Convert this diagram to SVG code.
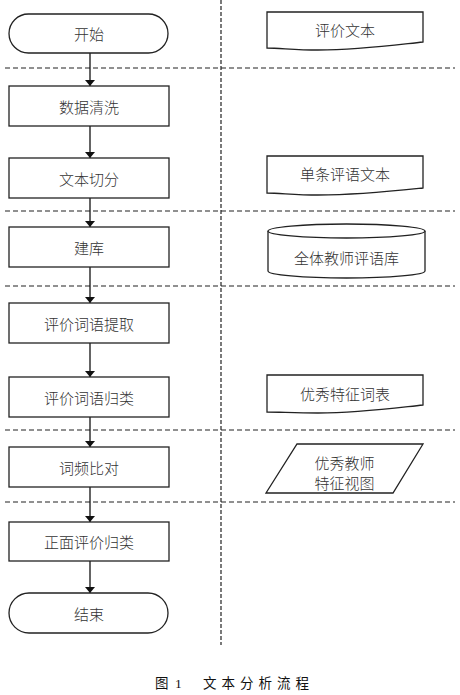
<svg xmlns="http://www.w3.org/2000/svg" width="460" height="695" viewBox="0 0 460 695">
<style>
.shape{fill:#fff;stroke:#222;stroke-width:1.3}
.lbl{font-family:"Noto Sans CJK SC","Noto Sans CJK TC",sans-serif;font-size:15px;fill:#333;text-anchor:middle;dominant-baseline:central;font-weight:300}
.sep{stroke:#222;stroke-width:1.2;stroke-dasharray:5,3;fill:none}
.vsep{stroke:#222;stroke-width:1.2;stroke-dasharray:4,2;fill:none}
.conn{stroke:#111;stroke-width:1.3;fill:none;marker-end:url(#arr)}
.cap{font-family:"Liberation Serif","Noto Sans CJK SC",serif;font-size:13.5px;fill:#111}
</style>
<defs>
<marker id="arr" viewBox="0 0 6 10" refX="6" refY="5" markerWidth="6" markerHeight="10" markerUnits="userSpaceOnUse" orient="auto-start-reverse">
<path d="M0,0 L6,5 L0,10 z" fill="#111"/>
</marker>
</defs>
<rect width="460" height="695" fill="#fff"/>
<g id="separators">
<line class="vsep" x1="221" y1="0" x2="221" y2="645"/>
<line class="sep" x1="5" y1="68" x2="455" y2="68"/>
<line class="sep" x1="5" y1="211" x2="455" y2="211"/>
<line class="sep" x1="5" y1="286" x2="455" y2="286"/>
<line class="sep" x1="5" y1="430" x2="455" y2="430"/>
<line class="sep" x1="5" y1="502" x2="455" y2="502"/>
</g>
<g id="connectors">
<line class="conn" x1="90" y1="53" x2="90" y2="86"/>
<line class="conn" x1="90" y1="126" x2="90" y2="158"/>
<line class="conn" x1="90" y1="198" x2="90" y2="227"/>
<line class="conn" x1="90" y1="267" x2="90" y2="303"/>
<line class="conn" x1="90" y1="343" x2="90" y2="377"/>
<line class="conn" x1="90" y1="417" x2="90" y2="447"/>
<line class="conn" x1="90" y1="487" x2="90" y2="522"/>
<line class="conn" x1="90" y1="561" x2="90" y2="593"/>
</g>
<g id="start">
<rect class="shape" x="9" y="14" width="159" height="39" rx="19.5"/>
<text class="lbl" x="89" y="33.5">开始</text>
</g>
<g id="clean">
<rect class="shape" x="9" y="86" width="160" height="40"/>
<text class="lbl" x="89" y="106">数据清洗</text>
</g>
<g id="split">
<rect class="shape" x="9" y="158" width="160" height="40"/>
<text class="lbl" x="89" y="178">文本切分</text>
</g>
<g id="build">
<rect class="shape" x="9" y="227" width="160" height="40"/>
<text class="lbl" x="89" y="247">建库</text>
</g>
<g id="extract">
<rect class="shape" x="9" y="303" width="160" height="40"/>
<text class="lbl" x="89" y="323">评价词语提取</text>
</g>
<g id="classify">
<rect class="shape" x="9" y="377" width="160" height="40"/>
<text class="lbl" x="89" y="397">评价词语归类</text>
</g>
<g id="compare">
<rect class="shape" x="9" y="447" width="160" height="40"/>
<text class="lbl" x="89" y="467">词频比对</text>
</g>
<g id="positive">
<rect class="shape" x="9" y="522" width="160" height="39"/>
<text class="lbl" x="89" y="541.5">正面评价归类</text>
</g>
<g id="end">
<rect class="shape" x="9" y="593" width="159" height="40" rx="20"/>
<text class="lbl" x="89" y="613">结束</text>
</g>
<g id="doc-text">
<path class="shape" d="M267,12 H423 V42 C395,45 360,50 318,50 C295,50 280,48 267,48 Z"/>
<text class="lbl" x="345" y="29">评价文本</text>
</g>
<g id="doc-single">
<path class="shape" d="M267,156 H423 V188 C395,191 360,195 318,195 C295,195 280,193 267,193 Z"/>
<text class="lbl" x="345" y="173">单条评语文本</text>
</g>
<g id="db">
<path class="shape" d="M268,231 A78.5,7 0 0 1 425,231 V271 A78.5,7 0 0 1 268,271 Z"/>
<path class="shape" d="M268,231 A78.5,7 0 0 0 425,231" fill="none"/>
<text class="lbl" x="346.5" y="257">全体教师评语库</text>
</g>
<g id="doc-words">
<path class="shape" d="M267,375 H423 V405 C395,408 360,413 318,413 C295,413 280,412 267,412 Z"/>
<text class="lbl" x="345" y="393">优秀特征词表</text>
</g>
<g id="view">
<path class="shape" d="M297,444 H423 L393,493 H266 Z"/>
<text class="lbl" x="344.5" y="462">优秀教师</text>
<text class="lbl" x="344.5" y="482">特征视图</text>
</g>
<g id="caption">
<text class="cap" x="155" y="688">图</text>
<text class="cap" x="175" y="688">1</text>
<text class="cap" x="203" y="688" letter-spacing="5">文本分析流程</text>
</g>
</svg>
